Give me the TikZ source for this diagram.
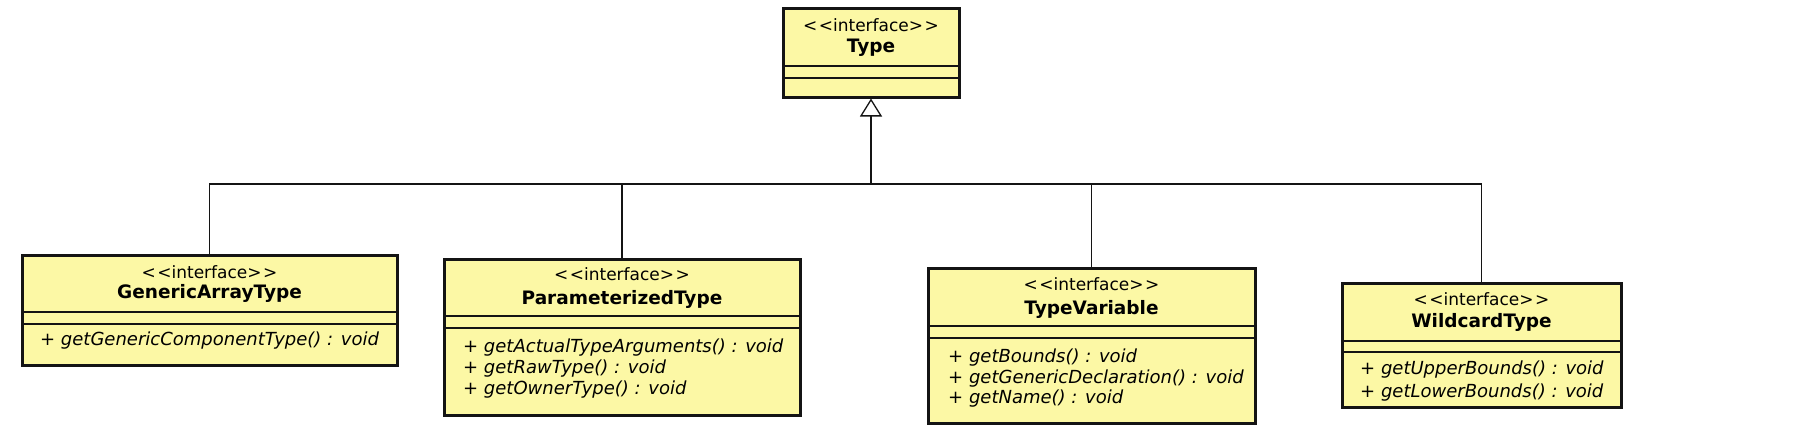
\documentclass[tikz,border=0pt]{standalone}
\usepackage{fontspec}
\setmainfont{DejaVu Sans}
\usetikzlibrary{arrows.meta}
\definecolor{clsfill}{RGB}{252,248,165}
\definecolor{ink}{RGB}{20,20,20}
\newcommand{\stereotxt}{{<}\kern1.5pt{<}interface{>}\kern1.5pt{>}}
\begin{document}
\begin{tikzpicture}[x=1pt,y=-1pt,
  cls/.style={draw=ink, fill=clsfill, line width=3pt, inner sep=0pt},
  sep/.style={draw=ink, line width=1.2pt},
  stereo/.style={anchor=mid, inner sep=0pt, font=\fontsize{17}{20}\selectfont},
  cname/.style={anchor=mid, inner sep=0pt, font=\fontsize{18.5}{21}\selectfont\bfseries},
  meth/.style={anchor=mid west, inner sep=0pt, font=\fontsize{18}{21}\selectfont\itshape},
  conn/.style={draw=ink, line width=1.3pt},
  gen/.style={conn, -{Triangle[open, length=18pt, width=22pt, line width=1.3pt]}}
]
\useasboundingbox (0,0) rectangle (1804,440);

% Type
\node[cls, minimum width=176pt, minimum height=89pt] (type) at (871,52.5) {};
\draw[sep] (783,66) -- (959,66);
\draw[sep] (783,78) -- (959,78);
\node[stereo] (typeS) at (871,29) {\stereotxt};
\node[cname] (typeN) at (871,50) {Type};

% GenericArrayType
\node[cls, minimum width=375pt, minimum height=110pt] (gat) at (209.5,310) {};
\draw[sep] (22,312) -- (397,312);
\draw[sep] (22,324) -- (397,324);
\node[stereo] (gatS) at (209.5,276) {\stereotxt};
\node[cname] (gatN) at (209.5,296) {GenericArrayType};
\node[meth] (gatM1) at (40,343) {+ getGenericComponentType() : void};

% ParameterizedType
\node[cls, minimum width=356pt, minimum height=156pt] (pt) at (622,337) {};
\draw[sep] (444,316) -- (800,316);
\draw[sep] (444,328) -- (800,328);
\node[stereo] (ptS) at (622,278) {\stereotxt};
\node[cname] (ptN) at (622,302) {ParameterizedType};
\node[meth] (ptM1) at (463,350) {+ getActualTypeArguments() : void};
\node[meth] (ptM2) at (463,371) {+ getRawType() : void};
\node[meth] (ptM3) at (463,392) {+ getOwnerType() : void};

% TypeVariable
\node[cls, minimum width=327pt, minimum height=155pt] (tv) at (1091.5,345.5) {};
\draw[sep] (928,326) -- (1255,326);
\draw[sep] (928,338) -- (1255,338);
\node[stereo] (tvS) at (1091.5,288) {\stereotxt};
\node[cname] (tvN) at (1091.5,312) {TypeVariable};
\node[meth] (tvM1) at (948,360) {+ getBounds() : void};
\node[meth] (tvM2) at (948,381) {+ getGenericDeclaration() : void};
\node[meth] (tvM3) at (948,401) {+ getName() : void};

% WildcardType
\node[cls, minimum width=279pt, minimum height=124pt] (wt) at (1481.5,345) {};
\draw[sep] (1342,341) -- (1621,341);
\draw[sep] (1342,352) -- (1621,352);
\node[stereo] (wtS) at (1481.5,303) {\stereotxt};
\node[cname] (wtN) at (1481.5,325) {WildcardType};
\node[meth] (wtM1) at (1360,372) {+ getUpperBounds() : void};
\node[meth] (wtM2) at (1360,395) {+ getLowerBounds() : void};

% generalization connectors
\coordinate (bus) at (871,184);
\draw[conn] (gat.north) |- (bus);
\draw[conn] (pt.north) |- (bus);
\draw[conn] (tv.north) |- (bus);
\draw[conn] (wt.north) |- (bus);
\draw[gen] (bus) -- (type.south);
\end{tikzpicture}
\end{document}
